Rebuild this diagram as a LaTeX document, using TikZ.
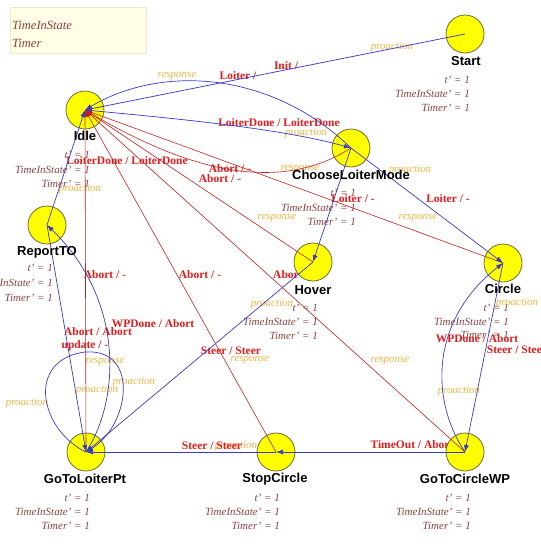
\documentclass[tikz,border=0pt]{standalone}
\usepackage{fontspec}
\setmainfont{Liberation Serif}
\setsansfont{Liberation Sans}
\usetikzlibrary{arrows.meta}

\definecolor{stateyellow}{HTML}{FFFF00}
\definecolor{stateedge}{HTML}{6E6A3A}
\definecolor{trblue}{HTML}{3A3AC8}
\definecolor{trred}{HTML}{C42020}
\definecolor{lblred}{HTML}{E51A1A}
\definecolor{lblorange}{HTML}{F2B441}
\definecolor{annobrown}{HTML}{8E4040}
\definecolor{varbox}{HTML}{FFFDE4}
\definecolor{varboxedge}{HTML}{EEEAC6}

\tikzset{
  state/.style={circle, fill=stateyellow, draw=stateedge, line width=0.8pt,
    minimum size=38pt, inner sep=0pt},
  statename/.style={font=\sffamily\bfseries\fontsize{13}{15}\selectfont,
    text=black, inner sep=0pt},
  anno/.style={font=\itshape\fontsize{11}{13}\selectfont, text=annobrown,
    anchor=east, inner sep=0pt},
  varname/.style={font=\itshape\fontsize{12.5}{14}\selectfont, text=annobrown,
    anchor=west, inner sep=0pt},
  evlabel/.style={font=\bfseries\fontsize{11.5}{13}\selectfont, text=lblred,
    inner sep=0pt},
  actlabel/.style={font=\itshape\fontsize{11}{13}\selectfont, text=lblorange,
    inner sep=0pt},
  bluetr/.style={draw=trblue, line width=0.7pt, -{Latex[length=7pt,width=5pt]}},
  redtr/.style={draw=trred, line width=0.6pt, -{Latex[length=7pt,width=5pt]}},
}

% three derivative lines below a state: prefix, right edge, first line y, step
\newcommand\stateanno[4]{%
  \node[anno] (#1-t) at (#2,#3) {t' = 1};
  \node[anno] (#1-tis) at (#2,#3+#4) {TimeInState' = 1};
  \node[anno] (#1-tmr) at (#2,#3+2*#4) {Timer' = 1};
}

\begin{document}
\begin{tikzpicture}[x=1pt,y=-1pt]
\useasboundingbox (0,0) rectangle (541,552);

% variable list
\filldraw[fill=varbox, draw=varboxedge] (10,7) rectangle (146,53);
\node[varname] (vtis) at (12,25) {TimeInState};
\node[varname] (vtimer) at (12,43) {Timer};

% derivative annotations
\stateanno{an-start}{470}{80}{14}
\stateanno{an-idle}{90}{155}{14.5}
\stateanno{an-clm}{356}{193}{14.5}
\stateanno{an-rep}{53}{268}{15}
\stateanno{an-hov}{318}{308}{14}
\stateanno{an-cir}{509}{308}{13.5}
\stateanno{an-gtlp}{90}{498}{14}
\stateanno{an-stop}{280}{498}{14}
\stateanno{an-gtcw}{471}{498}{14}

% action labels
\node[actlabel] (a1) at (177,76) {response};
\node[actlabel] (a2) at (392,47) {proaction};
\node[actlabel] (a3) at (306,133) {proaction};
\node[actlabel] (a4) at (300,169) {response};
\node[actlabel] (a5) at (410,170) {proaction};
\node[actlabel] (a6) at (80,189) {proaction};
\node[actlabel] (a7) at (277,218) {response};
\node[actlabel] (a8) at (418,218) {response};
\node[actlabel] (a9) at (272,304) {proaction};
\node[actlabel] (a10) at (517,303) {proaction};
\node[actlabel] (a11) at (390,361) {response};
\node[actlabel] (a12) at (250,360) {response};
\node[actlabel] (a13) at (105,362) {response};
\node[actlabel] (a14) at (134,382) {proaction};
\node[actlabel] (a15) at (97,390) {proaction};
\node[actlabel] (a16) at (27,403) {proaction};
\node[actlabel] (a17) at (459,391) {proaction};
\node[actlabel] (a18) at (236,446) {proaction};

% event / output labels
\node[evlabel] (e1) at (286,66) {Init /};
\node[evlabel] (e2) at (238,76) {Loiter /};
\node[evlabel] (e3) at (279,123) {LoiterDone / LoiterDone};
\node[evlabel] (e4) at (127,161) {LoiterDone / LoiterDone};
\node[evlabel] (e5) at (230,169) {Abort / -};
\node[evlabel] (e6) at (220,179) {Abort / -};
\node[evlabel] (e7) at (353,199) {Loiter / -};
\node[evlabel] (e8) at (448,199) {Loiter / -};
\node[evlabel] (e9) at (105,275) {Abort / -};
\node[evlabel] (e10) at (200,275) {Abort / -};
\node[evlabel] (e11) at (286,275) {Abor};
\node[evlabel] (e12) at (153,324) {WPDone / Abort};
\node[evlabel] (e13) at (98,332) {Abort / Abort};
\node[evlabel] (e14) at (85,346) {update / -};
\node[evlabel] (e15) at (231,351) {Steer / Steer};
\node[evlabel] (e16) at (477,339) {WPDone / Abort};
\node[evlabel] (e17) at (517,350) {Steer / Steer};
\node[evlabel] (e18) at (212,446) {Steer / Steer};
\node[evlabel] (e19) at (412,445) {TimeOut / Abort};

% states
\node[state] (start) at (465,34) {};
\node[state] (idle) at (85,110) {};
\node[state] (clm) at (351,148) {};
\node[state] (rep) at (47,225) {};
\node[state] (hov) at (313,262) {};
\node[state] (cir) at (503,263) {};
\node[state] (gtlp) at (86,452) {};
\node[state] (stop) at (276,452) {};
\node[state] (gtcw) at (465,452) {};

% red transitions back to Idle
\draw[redtr] (gtlp.center) -- (idle.center);
\draw[redtr] (stop.center) -- (idle.center);
\draw[redtr] (hov.center) -- (idle.center);
\draw[redtr] (gtcw.center) -- (idle.center);
\draw[redtr] (cir.center) -- (idle.center);
\draw[redtr] (clm.center) .. controls (270,200) and (170,160) .. (idle.center);

% blue transitions
\draw[bluetr] (start.center) -- (idle.center);
\draw[bluetr] (clm.center) .. controls (270,70) and (160,65) .. (idle.center);
\draw[bluetr] (idle.center) .. controls (170,118) and (280,128) .. (clm.center);
\draw[bluetr] (rep.center) -- (idle.center);
\draw[bluetr] (clm.center) -- (hov.center);
\draw[bluetr] (clm.center) -- (cir.center);
\draw[bluetr] (hov.center) -- (gtlp.center);
\draw[bluetr] (cir.center) -- (gtcw.center);
\draw[bluetr] (gtcw.center) .. controls (430,400) and (430,320) .. (cir.center);
\draw[bluetr] (gtcw.center) -- (stop.center);
\draw[bluetr] (stop.center) -- (gtlp.center);
\draw[bluetr] (rep.center) -- (gtlp.center);
\draw[bluetr] (gtlp.center) .. controls (120,400) and (125,300) .. (rep.center);
\draw[bluetr] (gtlp.center) .. controls (40,430) and (25,360) .. (85,352)
  .. controls (140,348) and (130,425) .. (gtlp.center);

% state names
\node[statename] (n-start) at (466,61) {Start};
\node[statename] (n-idle) at (85,136) {Idle};
\node[statename] (n-clm) at (351,175) {ChooseLoiterMode};
\node[statename] (n-rep) at (47,252) {ReportTO};
\node[statename] (n-hov) at (313,290) {Hover};
\node[statename] (n-cir) at (503,289) {Circle};
\node[statename] (n-gtlp) at (85,479) {GoToLoiterPt};
\node[statename] (n-stop) at (275,479) {StopCircle};
\node[statename] (n-gtcw) at (465,479) {GoToCircleWP};
\end{tikzpicture}
\end{document}
